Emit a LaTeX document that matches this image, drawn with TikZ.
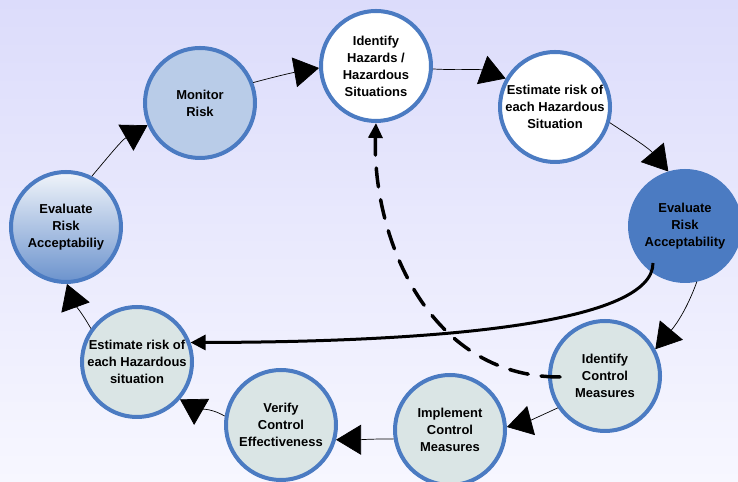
\documentclass[tikz,border=0pt]{standalone}
\usepackage{fontspec}
\setmainfont{Liberation Sans}
\usetikzlibrary{arrows.meta}
\usepackage{xcolor}
\definecolor{ringBlue}{HTML}{4B7BC2}
\definecolor{paleBlue}{HTML}{B9CCE8}
\definecolor{mistGrey}{HTML}{DAE5E5}
\definecolor{skyTop}{HTML}{DCDCFB}
\definecolor{skyBottom}{HTML}{F7F7FF}

\begin{document}
\begin{tikzpicture}[x=1bp,y=1bp,
  stage/.style={circle,draw=ringBlue,line width=4bp,minimum size=110bp,inner sep=0pt,align=center,font=\fontsize{13}{17}\selectfont\bfseries},
  flow/.style={-{Triangle[length=25bp,width=30bp]},line width=0.7bp},
  feedback/.style={-{Triangle[length=15bp,width=15bp]},line width=3bp},
  loopback/.style={-{Triangle[length=15bp,width=14bp]},line width=3.5bp,dash pattern=on 19bp off 13bp,line cap=round}]
  \useasboundingbox (0,0) rectangle (738,482);
  \shade[top color=skyTop,bottom color=skyBottom] (0,0) rectangle (738,482);
  % risk loop
  \node[stage,fill=paleBlue] (monitor) at (200,379) {Monitor\\Risk};
  \node[stage,fill=white] (hazards) at (376,416) {Identify\\Hazards /\\Hazardous\\Situations};
  \node[stage,fill=white] (estimate) at (555,375) {Estimate risk of\\each Hazardous\\Situation};
  \node[stage,fill=ringBlue] (evaluate) at (685,256) {Evaluate\\Risk\\Acceptability};
  \node[stage,fill=mistGrey] (identify) at (605,106) {Identify\\Control\\Measures};
  \node[stage,fill=mistGrey] (implement) at (450,52) {Implement\\Control\\Measures};
  \node[stage,fill=mistGrey] (verify) at (281,57) {Verify\\Control\\Effectiveness};
  \node[stage,fill=mistGrey] (reestimate) at (137,120) {Estimate risk of\\each Hazardous\\situation};
  \node[stage,top color=white!92!ringBlue,bottom color=ringBlue!82!white] (reevaluate) at (66,255) {Evaluate\\Risk\\Acceptabiliy};
  \coordinate (turn) at (653,219);
  \coordinate (retry) at (560,105);
  \draw[flow] (monitor.21) to[out=15,in=190] (hazards.182);
  \draw[flow] (hazards.357) to[out=-3,in=160] (estimate.150);
  \draw[flow] (estimate.344) to[out=-33,in=130] (evaluate.107);
  \draw[flow] (evaluate.282) to[out=-110,in=50] (identify.28);
  \draw[flow] (identify.214) to[out=205,in=15] (implement.3);
  \draw[flow] (implement.189) to[out=180,in=0] (verify.345);
  \draw[flow] (verify.171) to[out=150,in=-30] (reestimate.319);
  \draw[flow] (reestimate.144) to[out=120,in=-70] (reevaluate.271);
  \draw[flow] (reevaluate.63) to[out=50,in=210] (monitor.203);
  % shortcuts
  \draw[feedback] (turn) .. controls (653,160) and (450,140) .. (reestimate.20);
  \draw[loopback] (retry) .. controls (425,105) and (372,250) .. (hazards.south);
\end{tikzpicture}
\end{document}
